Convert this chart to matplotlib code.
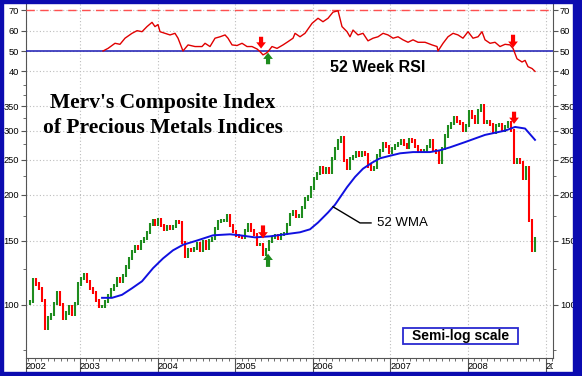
import matplotlib
matplotlib.use("Agg")
import matplotlib.pyplot as plt
import numpy as np
from matplotlib.patches import Rectangle
from matplotlib.ticker import FixedLocator, FuncFormatter, MultipleLocator, NullFormatter
from matplotlib.transforms import Bbox, TransformedBbox

plt.rcParams["font.family"] = ["Liberation Sans", "DejaVu Sans"]

# closes sampled every second week, late Apr 2002 .. mid Nov 2008
first_week = 2002.317
last_week = 2008.863
closes = [
    101, 102, 117, 114, 111, 103, 86, 92, 94, 101,
    108, 100, 92, 95, 99, 94, 101, 114, 118, 121,
    116, 111, 108, 103, 99, 99, 102, 106, 110, 113,
    118, 116, 120, 127, 134, 140, 144, 143, 149, 152,
    158, 166, 170, 166, 171, 165, 161, 164, 162, 164,
    169, 168, 148, 136, 142, 141, 143, 147, 141, 149,
    143, 150, 152, 162, 169, 170, 170, 176, 165, 159,
    155, 154, 153, 160, 166, 160, 156, 146, 146, 137,
    142, 149, 153, 155, 152, 156, 157, 166, 177, 180,
    175, 175, 185, 195, 198, 209, 222, 229, 237, 231,
    236, 230, 252, 268, 281, 288, 248, 236, 252, 255,
    262, 256, 261, 258, 240, 235, 238, 257, 264, 277,
    271, 262, 268, 273, 276, 282, 275, 270, 283, 281,
    272, 264, 263, 265, 271, 281, 265, 262, 245, 268,
    290, 307, 313, 325, 318, 313, 301, 310, 338, 327,
    316, 340, 352, 316, 317, 312, 297, 310, 311, 300,
    308, 316, 300, 245, 250, 246, 222, 237, 170, 141,
    152,
]

wma_years = [
    2003.284, 2003.412, 2003.541, 2003.670, 2003.799, 2003.941, 2004.070, 2004.198,
    2004.327, 2004.508, 2004.714, 2004.933, 2005.062, 2005.255, 2005.448, 2005.642,
    2005.835, 2005.964, 2006.067, 2006.196, 2006.286, 2006.441, 2006.544, 2006.647,
    2006.763, 2006.866, 2006.995, 2007.124, 2007.291, 2007.510, 2007.639, 2007.768,
    2007.961, 2008.219, 2008.477, 2008.606, 2008.735, 2008.863,
]
wma_values = [
    104.5, 104.5, 106.5, 111, 116, 126, 134, 141,
    146, 150, 155, 156, 155, 153, 154, 156,
    158, 161, 168, 179, 188, 210, 224, 236,
    245, 252, 256, 260, 262, 262, 265, 270,
    279, 292, 300, 307, 304, 283,
]

rsi_years = [
    2003.296, 2003.361, 2003.451, 2003.515, 2003.580, 2003.670, 2003.735, 2003.799,
    2003.863, 2003.928, 2003.966, 2004.005, 2004.031, 2004.095, 2004.160, 2004.224,
    2004.263, 2004.327, 2004.392, 2004.482, 2004.572, 2004.611, 2004.675, 2004.740,
    2004.804, 2004.869, 2004.907, 2004.959, 2005.023, 2005.088, 2005.152, 2005.216,
    2005.281, 2005.320, 2005.358, 2005.397, 2005.423, 2005.474, 2005.539, 2005.616,
    2005.680, 2005.745, 2005.771, 2005.835, 2005.899, 2005.990, 2006.067, 2006.131,
    2006.196, 2006.260, 2006.325, 2006.376, 2006.441, 2006.479, 2006.518, 2006.582,
    2006.647, 2006.711, 2006.776, 2006.840, 2006.905, 2006.969, 2007.034, 2007.098,
    2007.162, 2007.227, 2007.291, 2007.356, 2007.446, 2007.536, 2007.601, 2007.613,
    2007.678, 2007.742, 2007.807, 2007.871, 2007.935, 2008.000, 2008.064, 2008.129,
    2008.180, 2008.219, 2008.284, 2008.348, 2008.412, 2008.477, 2008.541, 2008.580,
    2008.631, 2008.696, 2008.735, 2008.773, 2008.825, 2008.863,
]
rsi_values = [
    50.0, 51.3, 53.8, 53.3, 56.3, 58.7, 60.0, 59.5,
    62.0, 64.1, 62.0, 63.0, 59.5, 58.7, 57.9, 58.7,
    56.3, 50.0, 53.0, 52.2, 52.2, 53.8, 52.2, 56.3,
    57.0, 57.9, 56.3, 53.0, 52.7, 53.8, 52.2, 52.2,
    51.0, 49.7, 48.1, 48.9, 49.7, 52.2, 51.3, 53.0,
    54.6, 56.3, 58.7, 57.0, 58.7, 63.6, 66.1, 64.4,
    66.1, 69.1, 69.8, 62.0, 59.5, 57.0, 60.3, 57.9,
    58.7, 55.0, 56.3, 57.0, 58.7, 57.9, 56.3, 57.0,
    55.5, 54.3, 55.5, 54.3, 54.3, 53.0, 52.2, 50.0,
    53.8, 57.0, 58.7, 57.9, 56.3, 59.5, 56.3, 57.0,
    59.5, 55.5, 53.8, 54.3, 52.2, 53.3, 53.0, 51.3,
    46.2, 44.6, 45.4, 42.3, 41.4, 40.0,
]

year_ticks = [2003, 2004, 2005, 2006, 2007, 2008, 2009]
year_labels = ["2003", "2004", "2005", "2006", "2007", "2008", "2009"]
price_ticks = [100, 150, 200, 250, 300, 350]
price_minor = [75, 125, 175, 225, 275, 325, 375, 400]
rsi_ticks = [40, 50, 60, 70]

UP = "#1e8c1e"
DOWN = "#ff0000"
FRAME = "#0b0bb0"
GRID = "#bdbdbd"
X0, X1 = 2002.304, 2009.095


def style_axis(ax):
    ax.set_xlim(X0, X1)
    ax.xaxis.set_major_locator(FixedLocator([X0] + year_ticks))
    ax.xaxis.set_minor_locator(MultipleLocator(1 / 12))
    ax.grid(True, which="major", ls=(0, (1, 2)), color=GRID, lw=0.8)
    for side in ("left", "right"):
        ax.spines[side].set_color("#555555")
        ax.spines[side].set_linewidth(0.8)
    ax.tick_params(axis="y", which="both", left=True, right=True, labelleft=True,
                   labelright=True, labelsize=6.7, length=3.5, pad=1.5, color="#555555")


def arrow(ax, x, tail, tip, color):
    ax.annotate("", xy=(x, tip), xytext=(x, tail),
                arrowprops=dict(arrowstyle="simple,head_length=0.45,head_width=0.7,tail_width=0.3",
                                color=color, lw=0, shrinkA=0, shrinkB=0),
                zorder=6)


fig = plt.figure(figsize=(5.82, 3.76), dpi=100)
ax_rsi = fig.add_axes([26 / 582, 291 / 376, 527 / 582, 82 / 376])
ax = fig.add_axes([26 / 582, 18 / 376, 527 / 582, 273 / 376])

# --- RSI panel
style_axis(ax_rsi)
ax_rsi.set_ylim(33.3, 73.6)
ax_rsi.yaxis.set_major_locator(FixedLocator(rsi_ticks))
ax_rsi.spines["bottom"].set_visible(False)
ax_rsi.spines["top"].set_visible(False)
ax_rsi.tick_params(axis="x", which="both", bottom=False, labelbottom=False)
ax_rsi.axhline(50, color="#1a1ab4", lw=1.1, zorder=3)
ax_rsi.axhline(70, color="#ff5050", lw=1.0, ls=(0, (6, 4)), zorder=3)
ax_rsi.plot(rsi_years, rsi_values, color="#e00000", lw=1.0, zorder=4)
ax_rsi.text(2006.84, 42.0, "52 Week RSI", ha="center", va="center",
            fontsize=11.5, fontweight="bold")
arrow(ax_rsi, 2005.333, 57.0, 51.2, DOWN)
arrow(ax_rsi, 2005.423, 43.5, 49.2, "#1e8c1e")
arrow(ax_rsi, 2008.580, 58.0, 51.6, DOWN)

# --- price panel (semi-log)
style_axis(ax)
ax.set_yscale("log")
ax.set_ylim(71.5, 400)
ax.yaxis.set_major_locator(FixedLocator(price_ticks))
ax.yaxis.set_major_formatter(FuncFormatter(lambda v, _: f"{v:.0f}"))
ax.yaxis.set_minor_locator(FixedLocator(price_minor))
ax.yaxis.set_minor_formatter(NullFormatter())
ax.tick_params(axis="y", which="minor", length=2.5)
ax.spines["top"].set_visible(False)
ax.spines["bottom"].set_color("#555555")
ax.set_xticklabels(["2002"] + year_labels)
ax.tick_params(axis="x", which="major", length=10, pad=-7.1, labelsize=6.7, color="#555555")
ax.tick_params(axis="x", which="minor", length=2.2, color="#555555")
for lab in ax.get_xticklabels():
    lab.set_horizontalalignment("left")
    lab.set_clip_box(TransformedBbox(Bbox([[0, -1], [1, 1]]), ax.transAxes))
    lab.set_clip_on(True)

# each bar runs from the previous close to this close, with a short wick
weeks = np.linspace(first_week, last_week, len(closes))
prev = np.array(closes[:-1], dtype=float)
cur = np.array(closes[1:], dtype=float)
bar_colors = [UP if c >= p else DOWN for p, c in zip(prev, cur)]
ax.vlines(weeks[1:], np.minimum(prev, cur) * 0.99, np.maximum(prev, cur) * 1.01,
          colors=bar_colors, lw=1.5, zorder=3)
ax.plot(wma_years, wma_values, color="#1010e0", lw=1.4, zorder=4)

ax.plot([2006.260, 2006.608, 2006.75], [185.6, 167.6, 167.6], color="black", lw=1.0, zorder=5)
ax.text(2006.827, 167.6, "52 WMA", ha="left", va="center", fontsize=9.5)

arrow(ax, 2005.358, 165, 152, DOWN)
arrow(ax, 2005.423, 127, 138, "#1e8c1e")
arrow(ax, 2008.593, 338, 313, DOWN)

ax.text(0.26, 0.934, "Merv's Composite Index", transform=ax.transAxes, ha="center",
        va="center", fontsize=15.5, fontweight="bold", family="Liberation Serif")
ax.text(0.26, 0.842, "of Precious Metals Indices", transform=ax.transAxes, ha="center",
        va="center", fontsize=15.5, fontweight="bold", family="Liberation Serif")

ax.add_patch(Rectangle((0.7154, 0.0513), 0.2182, 0.0586, transform=ax.transAxes,
                       facecolor="white", edgecolor="#2a2ad0", lw=1.3, zorder=6))
ax.text(0.7154 + 0.1091, 0.0513 + 0.0293, "Semi-log scale", transform=ax.transAxes,
        ha="center", va="center", fontsize=10, fontweight="bold", zorder=7)

# blue frame round the whole picture
for x0, y0, w, h in [(0, 0, 3, 376), (573, 0, 9, 376), (0, 0, 582, 4.5), (0, 373, 582, 3)]:
    fig.add_artist(Rectangle((x0 / 582, y0 / 376), w / 582, h / 376,
                             transform=fig.transFigure, color=FRAME, zorder=10))

fig.savefig("out.png", dpi=100)
